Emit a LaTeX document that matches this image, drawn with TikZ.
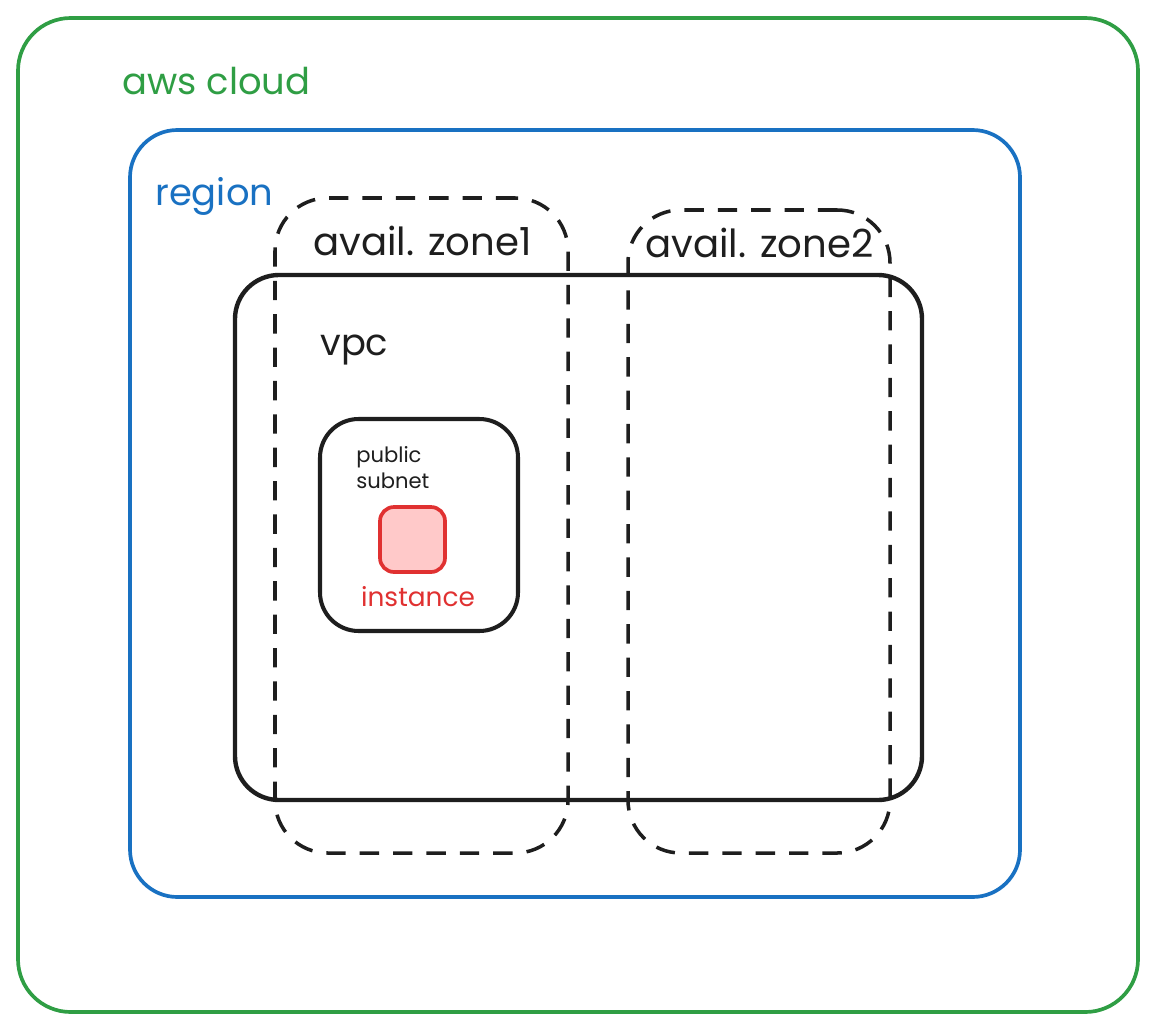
\documentclass[tikz,border=0pt]{standalone}
\usepackage{fontspec}
\setmainfont{Poppins}
\usetikzlibrary{positioning,fit}
\definecolor{awsgreen}{HTML}{2F9E44}
\definecolor{regionblue}{HTML}{1971C2}
\definecolor{inkblack}{HTML}{1E1E1E}
\definecolor{instred}{HTML}{E03131}
\definecolor{instfill}{HTML}{FFC9C9}
\tikzset{
  box/.style      = {draw, inner sep=0pt, line width=2.1pt},
  cloudbox/.style = {box, draw=awsgreen, rounded corners=30pt},
  regionbox/.style= {box, draw=regionblue, rounded corners=27pt},
  zonebox/.style  = {box, draw=inkblack, line width=2pt, dash pattern=on 11pt off 8pt, rounded corners=30pt},
  vpcbox/.style   = {box, draw=inkblack, line width=2.5pt, rounded corners=25pt},
  subnetbox/.style= {box, draw=inkblack, line width=2.3pt, rounded corners=22pt},
  instbox/.style  = {box, draw=instred, fill=instfill, rounded corners=8pt},
  tag/.style      = {anchor=west, inner sep=0pt, font=\fontsize{22}{24}\selectfont}
}
\begin{document}
\begin{tikzpicture}[x=0.02cm,y=-0.02cm]
		\useasboundingbox (0,0) rectangle (1156,1031);

		\node[cloudbox, fit={(18,18) (1138,1012)}] (cloud) {};
		\node[regionbox, fit={(130,130) (1020,897)}] (region) {};
		\node[vpcbox, fit={(235,275) (922,800)}] (vpc) {};
		\node[zonebox, fit={(275,198) (568,853)}] (zone1) {};
		\node[zonebox, fit={(628,210) (890,853)}] (zone2) {};
		\node[subnetbox, fit={(320,419) (518,631)}] (subnet) {};
		\node[instbox, fit={(380,507) (445,572)}] (inst) {};

		\node[tag, text=awsgreen, font=\fontsize{21}{23}\selectfont] (cloudtxt) at (122,81) {aws cloud};
		\node[tag, text=regionblue, font=\fontsize{21}{23}\selectfont] (regiontxt) at (155,196) {region};
		\node[tag, text=inkblack] (zone1txt) at (313,241) {avail. zone1};
		\node[tag, text=inkblack] (zone2txt) at (645,243) {avail. zone2};
		\node[tag, text=inkblack, font=\fontsize{21}{23}\selectfont] (vpctxt) at (320,350) {vpc};
		\node[tag, text=inkblack, font=\fontsize{12}{15}\selectfont, align=left, anchor=north west] (subnettxt) at (356,446) {public\\subnet};
		\node[tag, text=instred, font=\fontsize{15}{17}\selectfont, anchor=north] (insttxt) at (418,586) {instance};
	\end{tikzpicture}
\end{document}
